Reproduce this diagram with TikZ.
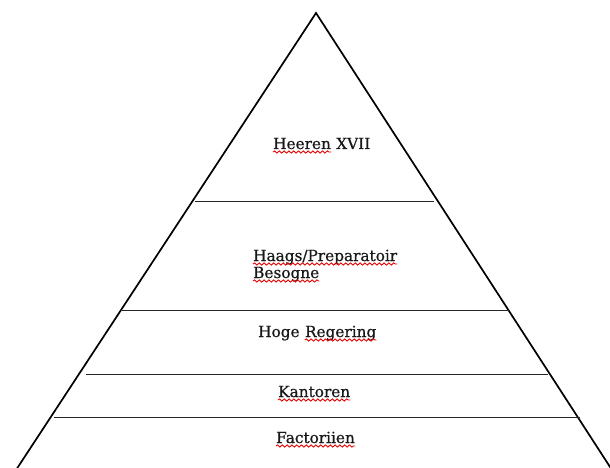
\documentclass[tikz,border=0pt]{standalone}
\usepackage{fontspec}
\setmainfont{DejaVu Serif}
\newfontfamily\labelfont[FakeBold=0.7]{DejaVu Serif}
\usetikzlibrary{decorations.pathmorphing}
\tikzset{
  edge/.style={line width=1.7pt, black},
  divider/.style={line width=0.9pt, black!85},
  label/.style={anchor=base west, inner sep=0pt, font=\labelfont\fontsize{15.3}{18}\selectfont, text=black!90},
  wavy/.style={draw=red!90!black, line width=0.9pt, decorate, decoration={snake, amplitude=1.1pt, segment length=4.8pt}}
}
\newcommand\wavyunder[1]{\draw[wavy] ([yshift=-3pt]#1.base west) -- ([yshift=-3pt]#1.base east);}
\begin{document}
\begin{tikzpicture}[x=1pt,y=-1pt]
\useasboundingbox (0,0) rectangle (610,468);
\fill[white] (0,0) rectangle (610,468);
\begin{scope}
\clip (0,0) rectangle (610,468);
\coordinate (apex) at (316,13);
\coordinate (bl) at (16,470);
\coordinate (br) at (612,470);
\draw[edge, line join=miter] (bl) -- (apex) -- (br);
\end{scope}
\coordinate (d1l) at (195,201); \coordinate (d1r) at (434,201);
\coordinate (d2l) at (122,310); \coordinate (d2r) at (510,310);
\coordinate (d3l) at (86,374);  \coordinate (d3r) at (548,374);
\coordinate (d4l) at (54,417);  \coordinate (d4r) at (580,417);
\draw[divider] (d1l) -- (d1r);
\draw[divider] (d2l) -- (d2r);
\draw[divider] (d3l) -- (d3r);
\draw[divider] (d4l) -- (d4r);
\node[label] (heeren) at (273,149) {Heeren};
\node[label] (xvii) at ([xshift=5pt]heeren.base east) {XVII};
\node[label] (haags) at (253,261) {Haags/Preparatoir};
\node[label] (besogne) at (253,278) {Besogne};
\node[label] (hoge) at (258,337) {Hoge};
\node[label] (regering) at ([xshift=5pt]hoge.base east) {Regering};
\node[label] (kantoren) at (278,397) {Kantoren};
\node[label] (factoriien) at (276,443) {Factoriien};
\wavyunder{heeren}
\wavyunder{haags}
\wavyunder{besogne}
\wavyunder{regering}
\wavyunder{kantoren}
\wavyunder{factoriien}
\end{tikzpicture}
\end{document}
